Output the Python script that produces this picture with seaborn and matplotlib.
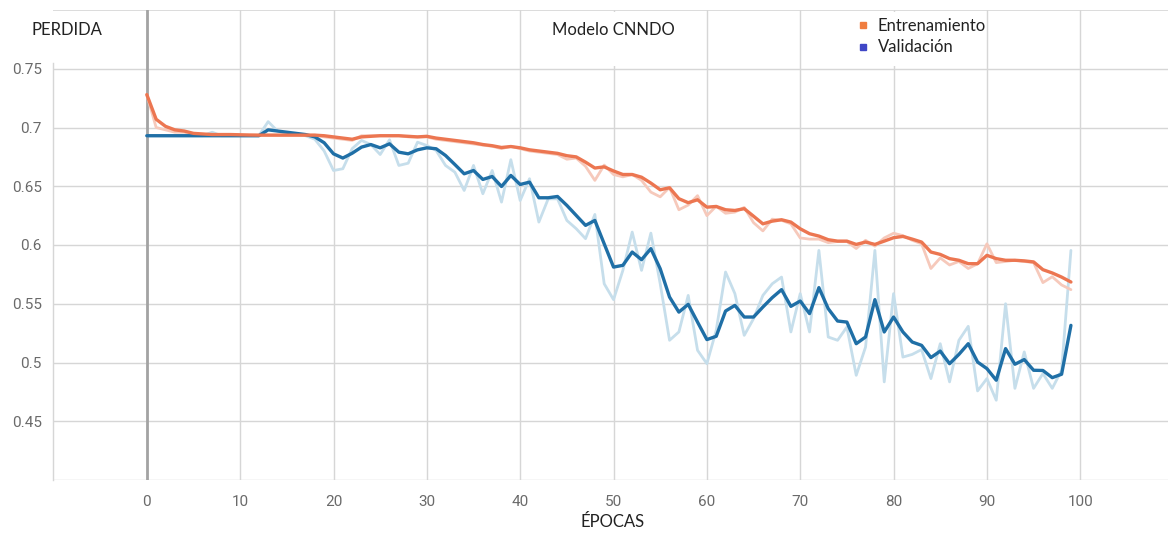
import numpy as np
import pandas as pd
import matplotlib
matplotlib.use("Agg")
import matplotlib.pyplot as plt
from matplotlib.lines import Line2D
from matplotlib.patches import Rectangle
import seaborn as sns

# ---------------- data ----------------
epochs = list(range(100))

train_smooth = [
    0.728, 0.707, 0.701, 0.698, 0.697, 0.695, 0.6945, 0.694, 0.694, 0.694,
    0.6938, 0.6936, 0.6935, 0.6935, 0.6935, 0.6935, 0.6935, 0.6935, 0.6935, 0.693,
    0.692, 0.691, 0.690, 0.692, 0.6925, 0.693, 0.693, 0.693, 0.6925, 0.692,
    0.6925, 0.691, 0.690, 0.689, 0.688, 0.687, 0.6855, 0.6845, 0.683, 0.6838,
    0.6827, 0.681, 0.680, 0.679, 0.678, 0.676, 0.675, 0.6705, 0.6655, 0.6665,
    0.663, 0.660, 0.660, 0.6577, 0.6527, 0.647, 0.6487, 0.6394, 0.636, 0.6385,
    0.6322, 0.6328, 0.630, 0.6294, 0.6309, 0.6245, 0.618, 0.6203, 0.6215, 0.6195,
    0.6138, 0.6096, 0.6076, 0.6045, 0.6033, 0.6033, 0.6005, 0.6025, 0.6005, 0.6033,
    0.6062, 0.6073, 0.605, 0.6025, 0.594, 0.592, 0.5884, 0.587, 0.5841, 0.5841,
    0.5912, 0.5884, 0.587, 0.587, 0.5865, 0.5856, 0.579, 0.5762, 0.5727, 0.5685,
]

train_raw = [
    0.728, 0.700, 0.698, 0.696, 0.696, 0.694, 0.694, 0.694, 0.694, 0.694,
    0.6935, 0.6935, 0.6935, 0.6935, 0.6935, 0.6935, 0.6935, 0.6935, 0.6935, 0.692,
    0.691, 0.690, 0.689, 0.693, 0.693, 0.693, 0.693, 0.693, 0.692, 0.692,
    0.692, 0.690, 0.689, 0.688, 0.687, 0.686, 0.685, 0.684, 0.682, 0.684,
    0.682, 0.680, 0.679, 0.678, 0.677, 0.673, 0.674, 0.667, 0.655, 0.668,
    0.660, 0.658, 0.660, 0.655, 0.645, 0.641, 0.649, 0.630, 0.634, 0.642,
    0.625, 0.633, 0.627, 0.628, 0.632, 0.619, 0.612, 0.622, 0.621, 0.618,
    0.606, 0.605, 0.605, 0.602, 0.603, 0.603, 0.597, 0.604, 0.599, 0.606,
    0.610, 0.608, 0.604, 0.601, 0.580, 0.589, 0.583, 0.586, 0.580, 0.584,
    0.601, 0.585, 0.586, 0.587, 0.586, 0.585, 0.568, 0.573, 0.566, 0.562,
]

val_smooth = [
    0.693, 0.693, 0.693, 0.693, 0.693, 0.693, 0.693, 0.693, 0.693, 0.693,
    0.693, 0.693, 0.693, 0.698, 0.697, 0.696, 0.695, 0.694, 0.692, 0.687,
    0.6776, 0.674, 0.6781, 0.6833, 0.6855, 0.6827, 0.6861, 0.679, 0.6776, 0.681,
    0.6827, 0.6819, 0.6762, 0.6685, 0.6606, 0.6634, 0.6558, 0.6583, 0.6498, 0.6592,
    0.6515, 0.6535, 0.6402, 0.6402, 0.6413, 0.6337, 0.6252, 0.6167, 0.6209, 0.601,
    0.5812, 0.5827, 0.594, 0.5875, 0.5969, 0.5798, 0.5557, 0.5429, 0.5495, 0.5344,
    0.5195, 0.5223, 0.5438, 0.5486, 0.5387, 0.5387, 0.5472, 0.5552, 0.562, 0.5478,
    0.5523, 0.5416, 0.5637, 0.5458, 0.5353, 0.5344, 0.516, 0.5217, 0.5535, 0.526,
    0.5387, 0.526, 0.5174, 0.5146, 0.5042, 0.5097, 0.499, 0.5069, 0.516, 0.5004,
    0.4948, 0.4849, 0.5118, 0.4985, 0.5025, 0.4934, 0.4932, 0.4871, 0.490, 0.5316,
]

val_raw = [
    0.693, 0.693, 0.693, 0.693, 0.693, 0.693, 0.693, 0.696, 0.693, 0.693,
    0.693, 0.693, 0.693, 0.705, 0.697, 0.695, 0.694, 0.693, 0.690, 0.680,
    0.6634, 0.6649, 0.682, 0.689, 0.6855, 0.677, 0.6895, 0.6677, 0.6696, 0.6875,
    0.6847, 0.6804, 0.6677, 0.662, 0.6464, 0.6677, 0.6436, 0.6634, 0.6365, 0.6726,
    0.6379, 0.6564, 0.6195, 0.6393, 0.6393, 0.6209, 0.6139, 0.6054, 0.626, 0.567,
    0.5535, 0.5784, 0.611, 0.5784, 0.6101, 0.567, 0.5189, 0.526, 0.5571, 0.5104,
    0.499, 0.5274, 0.577, 0.5586, 0.5231, 0.5373, 0.5571, 0.567, 0.5727, 0.526,
    0.5586, 0.526, 0.5954, 0.5217, 0.5189, 0.5302, 0.4891, 0.5132, 0.5954, 0.4835,
    0.5586, 0.5046, 0.5069, 0.511, 0.4863, 0.516, 0.4835, 0.5189, 0.5308, 0.4758,
    0.4863, 0.4679, 0.550, 0.478, 0.509, 0.478, 0.4906, 0.478, 0.4934, 0.5954,
]

xticks = [0, 10, 20, 30, 40, 50, 60, 70, 80, 90, 100]
yticks = [0.4, 0.45, 0.5, 0.55, 0.6, 0.65, 0.7, 0.75]
ytick_labels = ["", "0.45", "0.5", "0.55", "0.6", "0.65", "0.7", "0.75"]
legend_labels = ["Entrenamiento", "Validación"]

title_text = "Modelo CNNDO"
ylabel_text = "PERDIDA"
xlabel_text = "ÉPOCAS"

# ---------------- style ----------------
sns.set_style("white")
plt.rcParams["font.family"] = ["Roboto", "DejaVu Sans"]
label_font = ["Lato", "DejaVu Sans"]

W, H = 1168, 535
fig = plt.figure(figsize=(W / 100, H / 100), dpi=100)
ax = fig.add_axes([53 / W, 1 - 480 / H, (W - 53) / W, (480 - 10) / H])

df = pd.DataFrame({
    "epoch": epochs,
    "train_raw": train_raw,
    "train_smooth": train_smooth,
    "val_raw": val_raw,
    "val_smooth": val_smooth,
})

c_train = "#ec7651"
c_train_raw = "#f6c9bb"
c_val = "#1f6fa6"
c_val_raw = "#c6deeb"

sns.lineplot(data=df, x="epoch", y="val_raw", ax=ax, color=c_val_raw, lw=2.0,
             legend=False, zorder=3)
sns.lineplot(data=df, x="epoch", y="train_raw", ax=ax, color=c_train_raw, lw=2.0,
             legend=False, zorder=3)
sns.lineplot(data=df, x="epoch", y="val_smooth", ax=ax, color=c_val, lw=2.4,
             legend=False, zorder=5)
sns.lineplot(data=df, x="epoch", y="train_smooth", ax=ax, color=c_train, lw=2.4,
             legend=False, zorder=6)

ax.set_xlim(-10.05, 109.4)
ax.set_ylim(0.4, 0.8)

# grid
ax.set_xticks(xticks)
ax.set_yticks(yticks)
ax.set_yticklabels(ytick_labels)
ax.grid(True, color="#d6d6d6", lw=1.0, zorder=0)
ax.axhline(0.8, color="#d6d6d6", lw=1.2, zorder=2)
ax.axvline(0, color="#a3a3a3", lw=2.0, zorder=2)

for s in ["top", "right", "bottom"]:
    ax.spines[s].set_visible(False)
ax.spines["left"].set_color("#d6d6d6")
ax.spines["left"].set_linewidth(1.0)
ax.spines["left"].set_bounds(0.4, 0.755)

ax.tick_params(axis="x", length=0, pad=11, labelsize=11, labelcolor="#6a6a6a")
ax.tick_params(axis="y", length=4, width=1, color="#d6d6d6", pad=4,
               labelsize=11, labelcolor="#6a6a6a")

ax.set_xlabel("")
ax.set_ylabel("")

# white boxes behind title and legend (cover gridlines like reference)
y0 = (480 - 66) / 470
y1 = (480 - 12) / 470
ax.add_patch(Rectangle(((530 - 53) / (W - 53), y0), (700 - 530) / (W - 53), y1 - y0,
                       transform=ax.transAxes, facecolor="white",
                       edgecolor="none", zorder=1.5))
ax.add_patch(Rectangle(((848 - 53) / (W - 53), y0), (983 - 848) / (W - 53), y1 - y0,
                       transform=ax.transAxes, facecolor="white",
                       edgecolor="none", zorder=1.5))

fig.text(613 / W, 1 - 30 / H, title_text, ha="center", va="center",
         fontsize=12, color="#222222", family=label_font)
fig.text(67 / W, 1 - 30 / H, ylabel_text, ha="center", va="center",
         fontsize=12, color="#222222", family=label_font)
fig.text(613 / W, 1 - 522 / H, xlabel_text, ha="center", va="center",
         fontsize=12, color="#222222", family=label_font)

handles = [
    Line2D([], [], marker="s", ls="none", color="#f07d3f", markersize=5),
    Line2D([], [], marker="s", ls="none", color="#3f46c6", markersize=5),
]
leg = fig.legend(handles, legend_labels, loc="upper left",
                 bbox_to_anchor=(846 / W, 1 - 6 / H), frameon=False,
                 prop={"family": label_font, "size": 12},
                 handlelength=0.6, handletextpad=0.6,
                 labelspacing=0.35, borderpad=0.2)
for t in leg.get_texts():
    t.set_color("#222222")

fig.savefig("out.png", dpi=100, facecolor="white")
